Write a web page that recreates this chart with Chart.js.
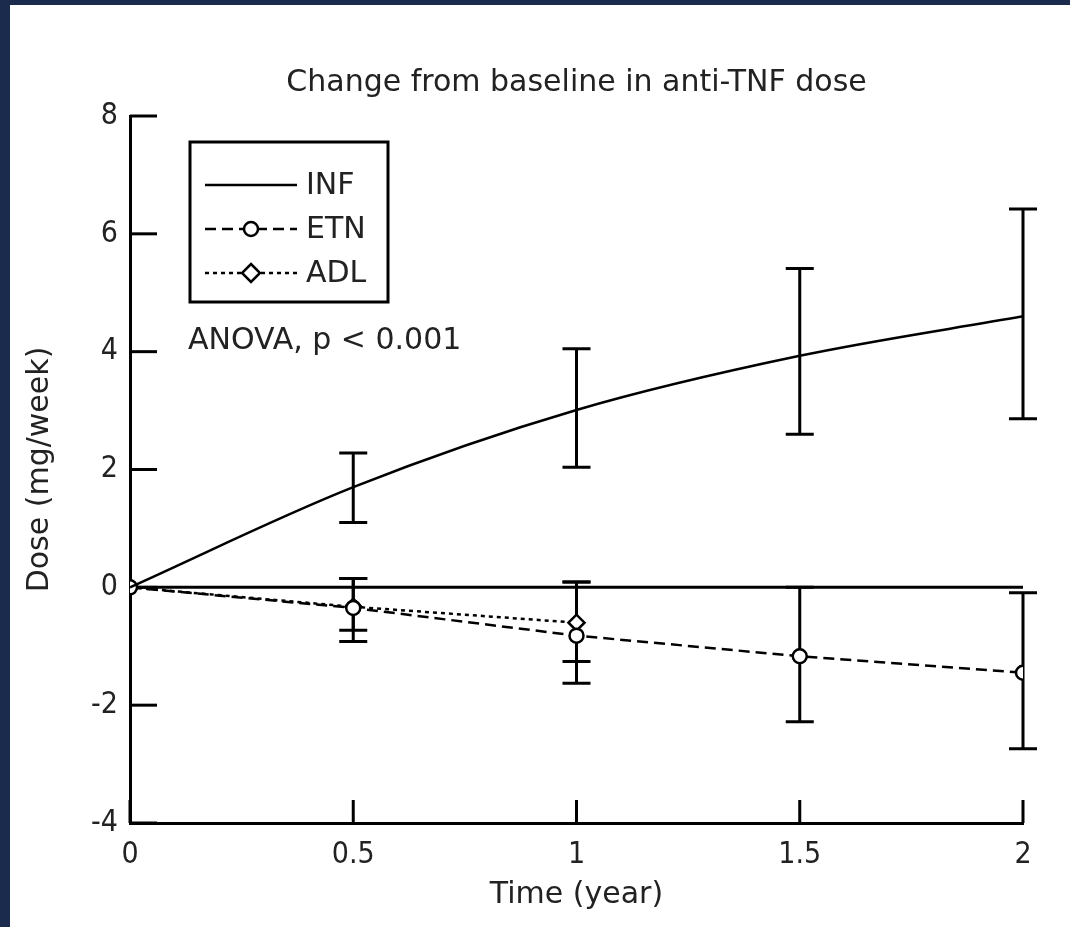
<!DOCTYPE html>
<html>
<head>
<meta charset="utf-8">
<script src="https://cdn.jsdelivr.net/npm/chart.js@4.4.0/dist/chart.umd.min.js"></script>
<style>
  html, body { margin: 0; padding: 0; background: #1a2b4e; }
  #wrap { position: absolute; left: 10px; top: 5px; width: 1060px; height: 922px; background: #fff; }
</style>
</head>
<body>
<div id="wrap"><canvas id="doseChart" width="1060" height="922"></canvas></div>
<script>
// time points (years)
const times = [0, 0.5, 1, 1.5, 2];

// INF (infliximab) - smooth line, no markers
const inf_mean = [0, 1.70, 3.01, 3.93, 4.60];
const inf_low = [null, 1.10, 2.04, 2.60, 2.86];
const inf_high = [null, 2.28, 4.05, 5.41, 6.42];

// ETN (etanercept) - dashed, circles
const etn_mean = [0, -0.35, -0.82, -1.17, -1.45];
const etn_low = [null, -0.92, -1.63, -2.28, -2.74];
const etn_high = [null, 0.15, 0.09, 0.0, -0.09];

// ADL (adalimumab) - dotted, diamonds, only up to 1 year
const adl_mean = [0, -0.33, -0.60];
const adl_low = [null, -0.73, -1.26];
const adl_high = [null, 0.15, 0.09];

const x_ticks = [0, 0.5, 1, 1.5, 2];
const y_ticks = [-4, -2, 0, 2, 4, 6, 8];

const FONT = "'DejaVu Sans', 'Open Sans', sans-serif";
const TICK_FONT = "'Liberation Sans Narrow', 'DejaVu Sans Condensed', 'DejaVu Sans', sans-serif";
const TEXT = "#222";

function pts(vals) {
  return vals.map((v, i) => ({ x: times[i], y: v }));
}

const ctx = document.getElementById("doseChart").getContext("2d");

const errorBars = [
  { low: inf_low, high: inf_high },
  { low: etn_low, high: etn_high },
  { low: adl_low, high: adl_high },
];

function drawMarker(c, style, x, y) {
  c.save();
  c.fillStyle = "#fff";
  c.strokeStyle = "#000";
  c.lineWidth = 2.5;
  c.setLineDash([]);
  c.beginPath();
  if (style === "circle") {
    c.arc(x, y, 7, 0, Math.PI * 2);
  } else if (style === "rectRot") {
    c.moveTo(x, y - 9);
    c.lineTo(x + 9, y);
    c.lineTo(x, y + 9);
    c.lineTo(x - 9, y);
    c.closePath();
  }
  c.fill();
  c.stroke();
  c.restore();
}

const extras = {
  id: "extras",
  beforeDatasetsDraw(chart) {
    const c = chart.ctx;
    const xs = chart.scales.x;
    const ys = chart.scales.y;
    const area = chart.chartArea;
    c.save();
    c.strokeStyle = "#000";
    c.lineWidth = 3;
    // inward tick marks
    y_ticks.forEach((v) => {
      const py = ys.getPixelForValue(v);
      c.beginPath();
      c.moveTo(area.left, py);
      c.lineTo(area.left + 27, py);
      c.stroke();
    });
    x_ticks.forEach((v) => {
      const px = xs.getPixelForValue(v);
      c.beginPath();
      c.moveTo(px, area.bottom);
      c.lineTo(px, area.bottom - 23);
      c.stroke();
    });
    // error bars
    errorBars.forEach((eb) => {
      eb.low.forEach((lo, i) => {
        if (lo === null) return;
        const px = xs.getPixelForValue(times[i]);
        const pl = ys.getPixelForValue(lo);
        const ph = ys.getPixelForValue(eb.high[i]);
        c.beginPath();
        c.moveTo(px, pl);
        c.lineTo(px, ph);
        c.moveTo(px - 14, pl);
        c.lineTo(px + 14, pl);
        c.moveTo(px - 14, ph);
        c.lineTo(px + 14, ph);
        c.stroke();
      });
    });
    c.restore();
  },
  afterDraw(chart) {
    const c = chart.ctx;
    c.save();
    // legend box
    c.strokeStyle = "#000";
    c.lineWidth = 3;
    c.strokeRect(180, 137, 198, 160);
    const rows = [
      { ds: chart.data.datasets[0], style: null },
      { ds: chart.data.datasets[1], style: "circle" },
      { ds: chart.data.datasets[2], style: "rectRot" },
    ];
    c.font = "30px " + FONT;
    c.textBaseline = "middle";
    rows.forEach((r, i) => {
      const y = 180 + i * 44;
      c.strokeStyle = "#000";
      c.lineWidth = 2.5;
      c.setLineDash(r.ds.borderDash || []);
      c.beginPath();
      c.moveTo(195, y);
      c.lineTo(287, y);
      c.stroke();
      c.setLineDash([]);
      if (r.style) drawMarker(c, r.style, 241, y);
      c.fillStyle = TEXT;
      c.fillText(r.ds.label, 296, y + 1);
    });
    c.fillStyle = TEXT;
    c.fillText("ANOVA, p < 0.001", 178, 336);
    c.restore();
  },
};

new Chart(ctx, {
  type: "line",
  data: {
    datasets: [
      {
        label: "INF",
        data: pts(inf_mean),
        borderColor: "#000",
        borderWidth: 2.5,
        pointRadius: 0,
        cubicInterpolationMode: "monotone",
        order: 1,
      },
      {
        label: "ETN",
        data: pts(etn_mean),
        borderColor: "#000",
        borderWidth: 2.5,
        borderDash: [11, 6],
        pointStyle: "circle",
        pointRadius: 7,
        pointBorderWidth: 2.5,
        pointBackgroundColor: "#fff",
        pointBorderColor: "#000",
        order: 2,
      },
      {
        label: "ADL",
        data: pts(adl_mean),
        borderColor: "#000",
        borderWidth: 2.5,
        borderDash: [4, 4],
        pointStyle: "rectRot",
        pointRadius: 8,
        pointBorderWidth: 2.5,
        pointBackgroundColor: "#fff",
        pointBorderColor: "#000",
        order: 3,
      },
      {
        label: "zero",
        data: [{ x: 0, y: 0 }, { x: 2, y: 0 }],
        borderColor: "#000",
        borderWidth: 3,
        pointRadius: 0,
        order: 10,
      },
    ],
  },
  options: {
    responsive: false,
    animation: false,
    layout: { padding: { left: 0, right: 47, top: 0, bottom: 0 } },
    plugins: {
      legend: { display: false },
      tooltip: { enabled: false },
      title: {
        display: true,
        fullSize: false,
        text: "Change from baseline in anti-TNF dose",
        color: TEXT,
        font: { family: FONT, size: 30, weight: "normal" },
        padding: { top: 60, bottom: 15 },
      },
    },
    scales: {
      x: {
        type: "linear",
        min: 0,
        max: 2,
        grid: { display: false, drawTicks: false },
        border: { display: true, color: "#000", width: 3 },
        ticks: {
          stepSize: 0.5,
          padding: 14,
          color: TEXT,
          font: { family: TICK_FONT, size: 30 },
          callback: (v) => String(v),
        },
        title: {
          display: true,
          text: "Time (year)",
          color: TEXT,
          font: { family: FONT, size: 30 },
          padding: { top: 0, bottom: 14 },
        },
        afterFit: (s) => { s.height = 104; },
      },
      y: {
        min: -4,
        max: 8,
        grid: { display: false, drawTicks: false },
        border: { display: true, color: "#000", width: 3 },
        ticks: {
          stepSize: 2,
          padding: 12,
          color: TEXT,
          font: { family: TICK_FONT, size: 30 },
        },
        title: {
          display: true,
          text: "Dose (mg/week)",
          color: TEXT,
          font: { family: FONT, size: 30 },
          padding: { top: 12, bottom: 0 },
        },
        afterFit: (s) => { s.width = 120; },
      },
    },
  },
  plugins: [extras],
});
</script>
</body>
</html>
